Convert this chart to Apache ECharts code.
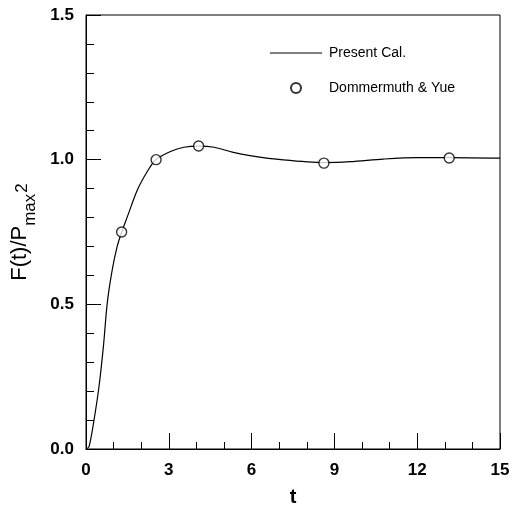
<!DOCTYPE html>
<html>
<head>
<meta charset="utf-8">
<script src="https://cdn.jsdelivr.net/npm/echarts@6/dist/echarts.min.js"></script>
<style>
  html, body { margin: 0; padding: 0; background: #fff; }
  #chart { width: 512px; height: 508px; }
</style>
</head>
<body>
<div id="chart"></div>
<script>
// Present Cal. (solid curve)
const curveT = [0, 0.11, 0.29, 0.47, 0.63, 0.77, 0.95, 1.13, 1.29, 1.5, 1.86, 2.22, 2.52, 3.06, 3.55, 4.09, 4.64, 5.3, 5.94, 7.15, 8.62, 9.57, 10.77, 11.98, 13.19, 15]
const curveF = [0, 0.008, 0.1, 0.215, 0.354, 0.504, 0.619, 0.7, 0.749, 0.803, 0.895, 0.959, 0.999, 1.028, 1.043, 1.047, 1.043, 1.026, 1.014, 0.999, 0.99, 0.993, 1.002, 1.007, 1.007, 1.005]
// Dommermuth & Yue (open circles)
const dataT = [1.29, 2.54, 4.08, 8.62, 13.16]
const dataF = [0.75, 1.0, 1.047, 0.988, 1.006]

const xTicks = [0, 3, 6, 9, 12, 15]
const yTicks = [0.0, 0.5, 1.0, 1.5]

const font = 'Liberation Sans, Arial, sans-serif'

const chart = echarts.init(document.getElementById('chart'))
chart.setOption({
  animation: false,
  grid: {
    left: 86,
    right: 12,
    top: 15,
    bottom: 59,
    outerBoundsMode: 'none',
    show: true,
    borderColor: '#000',
    borderWidth: 1
  },
  legend: {
    orient: 'vertical',
    left: 265,
    top: 41,
    itemWidth: 52,
    itemHeight: 10,
    itemGap: 21,
    textStyle: {
      fontFamily: font,
      fontSize: 14,
      color: '#000',
      padding: [0, 0, 0, 2]
    },
    data: [
      { name: 'Present Cal.', icon: 'path://M0,0L52,0L52,1.2L0,1.2Z' },
      { name: 'Dommermuth & Yue' }
    ]
  },
  xAxis: {
    type: 'value',
    min: xTicks[0],
    max: xTicks[xTicks.length - 1],
    interval: 3,
    name: 't',
    nameLocation: 'middle',
    nameGap: 38,
    nameTextStyle: { fontFamily: font, fontSize: 20, fontWeight: 'bold', color: '#000' },
    axisLine: { lineStyle: { color: '#000', width: 1 } },
    axisTick: { inside: true, length: 16, lineStyle: { color: '#000' } },
    minorTick: { show: true, splitNumber: 3, length: 7, lineStyle: { color: '#000' } },
    splitLine: { show: false },
    axisLabel: { margin: 13, fontFamily: font, fontSize: 17, fontWeight: 'bold', color: '#000' }
  },
  yAxis: {
    type: 'value',
    min: yTicks[0],
    max: yTicks[yTicks.length - 1],
    interval: 0.5,
    name: '{m|F(t)/P}{sub|max}{sup|2}',
    nameLocation: 'middle',
    nameRotate: 90,
    nameGap: 47,
    nameTextStyle: {
      fontFamily: font,
      color: '#000',
      rich: {
        m: { fontFamily: font, fontSize: 22, lineHeight: 38, color: '#000' },
        sub: { fontFamily: font, fontSize: 17, lineHeight: 17, verticalAlign: 'bottom', color: '#000' },
        sup: { fontFamily: font, fontSize: 17, lineHeight: 17, padding: [5, 0, 0, 1], color: '#000' }
      }
    },
    axisLine: { lineStyle: { color: '#000', width: 1 } },
    axisTick: { inside: true, length: 15, lineStyle: { color: '#000' } },
    minorTick: { show: true, splitNumber: 5, length: 8, lineStyle: { color: '#000' } },
    splitLine: { show: false },
    axisLabel: {
      margin: 12,
      fontFamily: font,
      fontSize: 17,
      fontWeight: 'bold',
      color: '#000',
      formatter: function(v) { return v.toFixed(1) }
    }
  },
  series: [
    {
      name: 'Present Cal.',
      type: 'line',
      smooth: 0.3,
      symbol: 'none',
      lineStyle: { color: '#000', width: 1.2 },
      itemStyle: { color: '#000' },
      data: curveT.map((t, i) => [t, curveF[i]])
    },
    {
      name: 'Dommermuth & Yue',
      type: 'scatter',
      symbol: 'circle',
      symbolSize: 10,
      itemStyle: { color: '#fff', borderColor: '#000', borderWidth: 1.4 },
      z: 3,
      data: dataT.map((t, i) => [t, dataF[i]])
    }
  ]
})
</script>
</body>
</html>
